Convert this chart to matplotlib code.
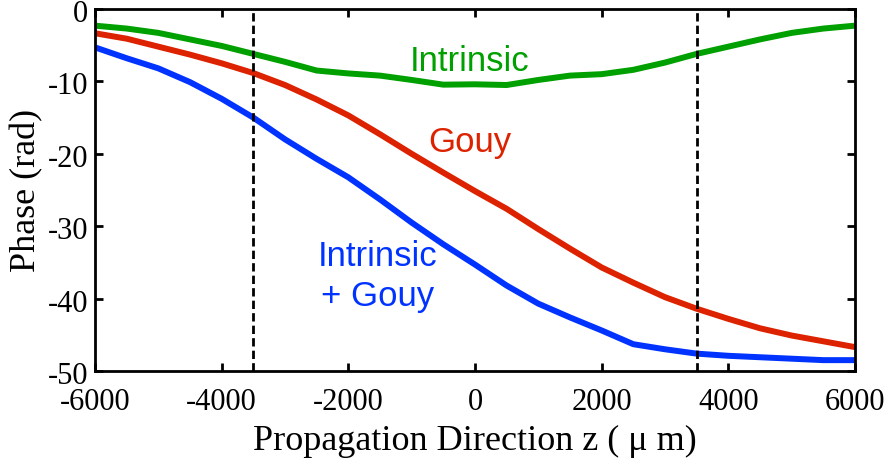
import matplotlib
matplotlib.use("Agg")
import matplotlib.pyplot as plt
from matplotlib.transforms import ScaledTranslation

z = [-6000, -5500, -5000, -4500, -4000, -3500, -3000, -2500, -2000, -1500, -1000, -500,
     0, 500, 1000, 1500, 2000, 2500, 3000, 3500, 4000, 4500, 5000, 5500, 6000]
intrinsic = [-2.3, -2.7, -3.3, -4.2, -5.1, -6.2, -7.3, -8.5, -8.9, -9.2, -9.8, -10.45,
             -10.4, -10.5, -9.8, -9.2, -9.0, -8.4, -7.4, -6.2, -5.2, -4.2, -3.3, -2.7, -2.3]
gouy = [-3.35, -4.1, -5.2, -6.3, -7.5, -8.85, -10.5, -12.5, -14.7, -17.3, -20.0, -22.6,
        -25.15, -27.6, -30.4, -33.1, -35.7, -37.8, -39.8, -41.4, -42.8, -44.1, -45.1, -45.9, -46.7]
combined = [-5.3, -6.8, -8.2, -10.1, -12.4, -15.0, -18.0, -20.7, -23.25, -26.3, -29.5, -32.5,
            -35.3, -38.2, -40.7, -42.6, -44.4, -46.3, -47.0, -47.6, -47.9, -48.1, -48.3, -48.5, -48.5]
boundaries = [-3500, 3500]
xticks = [-6000, -4000, -2000, 0, 2000, 4000, 6000]
yticks = [0, -10, -20, -30, -40, -50]

serif = ["Liberation Serif", "DejaVu Serif"]
sans = ["Liberation Sans", "DejaVu Sans"]

fig = plt.figure(figsize=(8.89, 4.65), dpi=100)
ax = fig.add_axes([95/889, 1-371/465, 760/889, 362/465])

c_green = "#00a000"
c_red = "#dd2200"
c_blue = "#0033ff"

ax.plot(z, intrinsic, color=c_green, lw=4.3, solid_joinstyle="round")
ax.plot(z, gouy, color=c_red, lw=4.3, solid_joinstyle="round")
ax.plot(z, combined, color=c_blue, lw=4.3, solid_joinstyle="round")
for b in boundaries:
    ax.axvline(b, color="black", lw=2.0, dashes=(3, 1.5))

ax.set_xlim(-6000, 6000)
ax.set_ylim(-50, 0)
ax.set_xticks(xticks)
ax.set_yticks(yticks)
ax.set_xticklabels([str(v) for v in xticks], family=serif, fontsize=22)
ax.set_yticklabels([str(v) for v in yticks], family=serif, fontsize=22)
ax.tick_params(direction="in", length=6, width=2.0, top=True, right=True)
ax.tick_params(axis="x", pad=12.5)
ax.tick_params(axis="y", pad=5)
for s in ax.spines.values():
    s.set_linewidth(2.0)

# shift y tick labels slightly downward, as in the reference
offset = ScaledTranslation(0, -2/100, fig.dpi_scale_trans)
for lab in ax.get_yticklabels():
    lab.set_transform(lab.get_transform() + offset)

ax.set_xlabel("Propagation Direction z ( \u03bc m)", family=serif, fontsize=26)
ax.set_ylabel("Phase (rad)", family=serif, fontsize=26)
ax.xaxis.set_label_coords(0.5, -0.148)
ax.yaxis.set_label_coords(-0.068, 0.5)

ax.text(-79, -8.56, "Intrinsic", color=c_green, family=sans, fontsize=25, ha="center", va="baseline")
ax.text(-79, -19.75, "Gouy", color=c_red, family=sans, fontsize=25, ha="center", va="baseline")
ax.text(-1540, -35.5, "Intrinsic", color=c_blue, family=sans, fontsize=25, ha="center", va="baseline")
ax.text(-1540, -41.0, "+ Gouy", color=c_blue, family=sans, fontsize=25, ha="center", va="baseline")

fig.savefig("out.png", dpi=100)
